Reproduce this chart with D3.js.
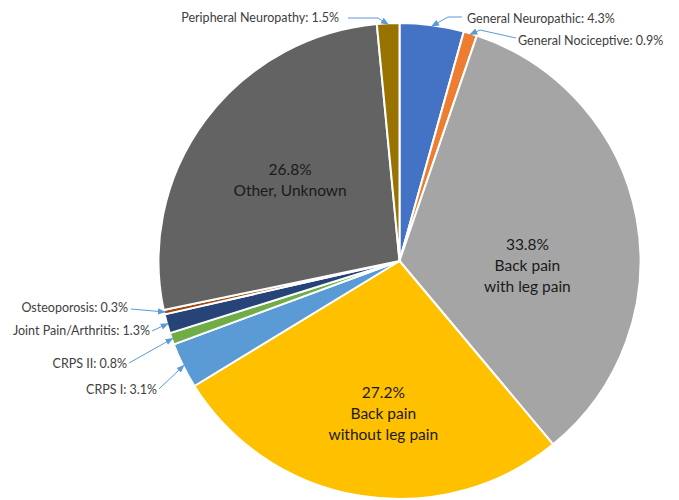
<!DOCTYPE html>
<html>
<head>
<meta charset="utf-8">
<script src="https://cdn.jsdelivr.net/npm/d3@7"></script>
<style>
  html, body { margin: 0; padding: 0; background: #fff; }
  svg { display: block; }
  text { font-family: Lato, "Open Sans", sans-serif; }
</style>
</head>
<body>
<svg id="chart" width="679" height="500"></svg>
<script>
// Pain diagnosis categories, clockwise from 12 o'clock
const categories = [
  "General Neuropathic",
  "General Nociceptive",
  "Back pain with leg pain",
  "Back pain without leg pain",
  "CRPS I",
  "CRPS II",
  "Joint Pain/Arthritis",
  "Osteoporosis",
  "Other, Unknown",
  "Peripheral Neuropathy"
];
const shares = [4.3, 0.9, 33.8, 27.2, 3.1, 0.8, 1.3, 0.3, 26.8, 1.5];
const sliceColors = [
  "#4472C4", "#ED7D31", "#A5A5A5", "#FFC000", "#5B9BD5",
  "#70AD47", "#264478", "#9E480E", "#636363", "#997300"
];
// Large slices carry their label inside; small ones get a callout
const insideLines = {
  "Back pain with leg pain": ["Back pain", "with leg pain"],
  "Back pain without leg pain": ["Back pain", "without leg pain"],
  "Other, Unknown": ["Other, Unknown"]
};

const svg = d3.select("#chart");
const cx = 399.5, cy = 261, r = 241, squash = 238 / 241;

const data = categories.map((c, i) => ({ name: c, value: shares[i], color: sliceColors[i] }));
const pie = d3.pie().value(d => d.value).sort(null);
const arcs = pie(data);
const arc = d3.arc().innerRadius(0).outerRadius(r);

// Map a polar point on the pie to page coordinates
const toPage = (angle, rad) => [cx + rad * Math.sin(angle), cy - rad * Math.cos(angle) * squash];

const g = svg.append("g").attr("transform", `translate(${cx},${cy}) scale(1,${squash})`);
g.selectAll("path").data(arcs).join("path")
  .attr("d", arc)
  .attr("fill", d => d.data.color)
  .attr("stroke", "#fff")
  .attr("stroke-width", 2)
  .attr("stroke-linejoin", "round");

// Inside labels: percent on first line, name below
const insidePlacement = {
  "Back pain with leg pain": { angle: 92, rad: 128 },
  "Back pain without leg pain": { angle: 186, rad: 155 },
  "Other, Unknown": { angle: 307, rad: 137 }
};
arcs.filter(a => insideLines[a.data.name]).forEach(a => {
  const p = insidePlacement[a.data.name];
  const [x, y] = toPage(p.angle * Math.PI / 180, p.rad);
  const lines = [a.data.value.toFixed(1) + "%"].concat(insideLines[a.data.name]);
  const lh = 21;
  const t = svg.append("text")
    .attr("text-anchor", "middle")
    .attr("font-size", 15.5)
    .attr("fill", "#1a1a1a");
  lines.forEach((ln, i) => {
    t.append("tspan")
      .attr("x", x)
      .attr("y", y + (i - (lines.length - 1) / 2) * lh + 5.5)
      .text(ln);
  });
});

// Callout labels for the small slices
const callouts = {
  "Peripheral Neuropathy": { x: 339, y: 22, anchor: "end", path: [[348, 18], [378, 18]] },
  "General Neuropathic": { x: 467, y: 23, anchor: "start", path: [[462, 17], [448, 17]] },
  "General Nociceptive": { x: 518, y: 45, anchor: "start", path: [[516, 38], [480, 30]] },
  "Osteoporosis": { x: 128, y: 312, anchor: "end", path: [[131, 309]] },
  "Joint Pain/Arthritis": { x: 150, y: 335, anchor: "end", path: [[152, 331]] },
  "CRPS II": { x: 127, y: 368, anchor: "end", path: [[129, 363]] },
  "CRPS I": { x: 157, y: 394, anchor: "end", path: [[159, 389]] }
};

const leaderColor = "#5B9BD5";
svg.append("defs").append("marker")
  .attr("id", "arrow")
  .attr("viewBox", "0 0 10 10")
  .attr("refX", 9).attr("refY", 5)
  .attr("markerWidth", 8).attr("markerHeight", 8)
  .attr("orient", "auto-start-reverse")
  .append("path")
  .attr("d", "M0,1 L10,5 L0,9 Z")
  .attr("fill", leaderColor);

const line = d3.line();
arcs.filter(a => callouts[a.data.name]).forEach(a => {
  const c = callouts[a.data.name];
  const mid = (a.startAngle + a.endAngle) / 2;
  const tip = toPage(mid, r - 1);
  svg.append("path")
    .attr("d", line(c.path.concat([tip])))
    .attr("fill", "none")
    .attr("stroke", leaderColor)
    .attr("stroke-width", 1)
    .attr("marker-end", "url(#arrow)");
  svg.append("text")
    .attr("x", c.x).attr("y", c.y)
    .attr("text-anchor", c.anchor)
    .attr("font-size", 12.5)
    .attr("fill", "#404040")
    .text(`${a.data.name}: ${a.data.value.toFixed(1)}%`);
});
</script>
</body>
</html>
